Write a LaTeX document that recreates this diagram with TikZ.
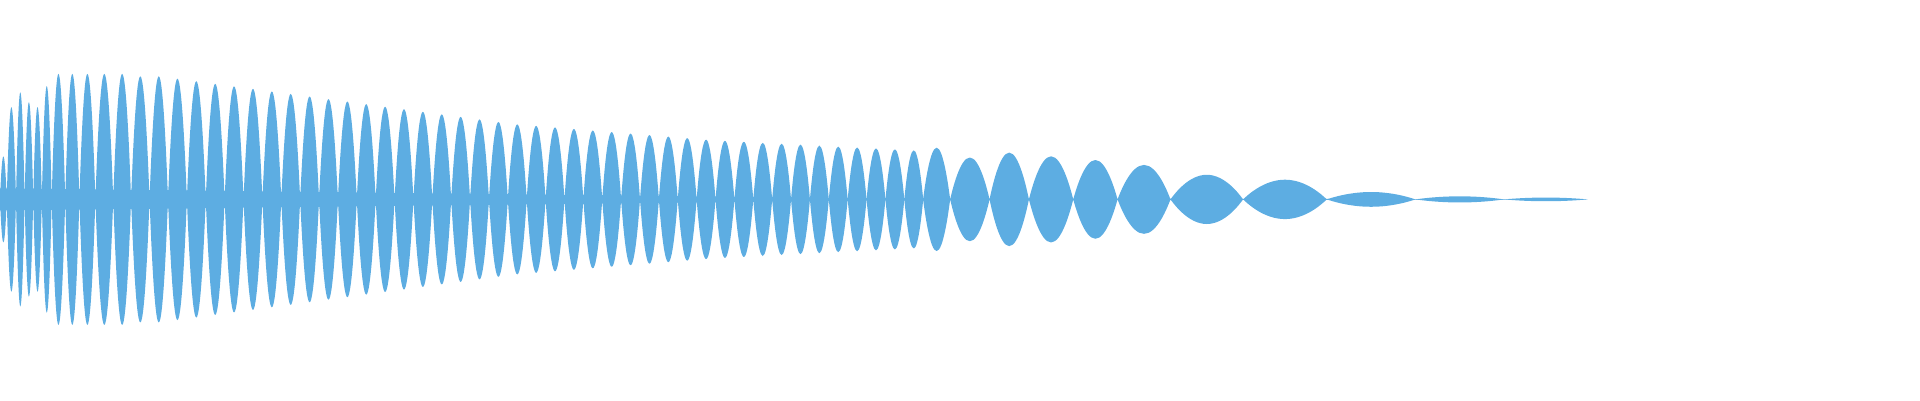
\documentclass[tikz,border=0pt]{standalone}
\definecolor{wave}{HTML}{5DADE2}
\tikzset{lens/.style={fill=wave,draw=none}}
\begin{document}
\begin{tikzpicture}[x=1pt,y=1pt]
\useasboundingbox (0,-163) rectangle (1560,162);
% central band
\fill[lens] (0,9) -- (700,1) -- (1290,0) -- (700,-1) -- (0,-9) -- cycle;
% irregular start
\foreach \a/\b/\h in {0/5.5/35, 5.5/13/75, 13/20/87, 20/27/79, 27/34/75, 34/42/92, 42/53/102, 53/64.5/102, 64.5/77.5/102, 77.5/92/102, 92/106.5/102, 106.5/121.5/100, 121.5/136.5/100}{
  \pgfmathsetmacro\m{(\a+\b)/2}
  \fill[lens] (\a,0) parabola bend (\m,\h) (\b,0) parabola bend (\m,-\h) (\a,0);
}
% regular section
\foreach \k in {0,...,39}{
  \pgfmathsetmacro\a{136.5+15.34*\k}
  \pgfmathsetmacro\b{\a+15.34}
  \pgfmathsetmacro\m{(\a+\b)/2}
  \pgfmathsetmacro\h{min(100,max(100-0.135*(\m-130),max(62-0.081*(\m-407),48-0.05*(\m-580))))}
  \fill[lens] (\a,0) parabola bend (\m,\h) (\b,0) parabola bend (\m,-\h) (\a,0);
}
% tail
\foreach \a/\b/\h in {750/772/42, 772/804/34, 804/836/38, 836/872/35, 872/908/32, 908/951/28, 951/1010/20, 1010/1078/16, 1078/1150/6, 1150/1222/2.5, 1222/1290/1.5}{
  \pgfmathsetmacro\m{(\a+\b)/2}
  \fill[lens] (\a,0) parabola bend (\m,\h) (\b,0) parabola bend (\m,-\h) (\a,0);
}
\end{tikzpicture}
\end{document}
